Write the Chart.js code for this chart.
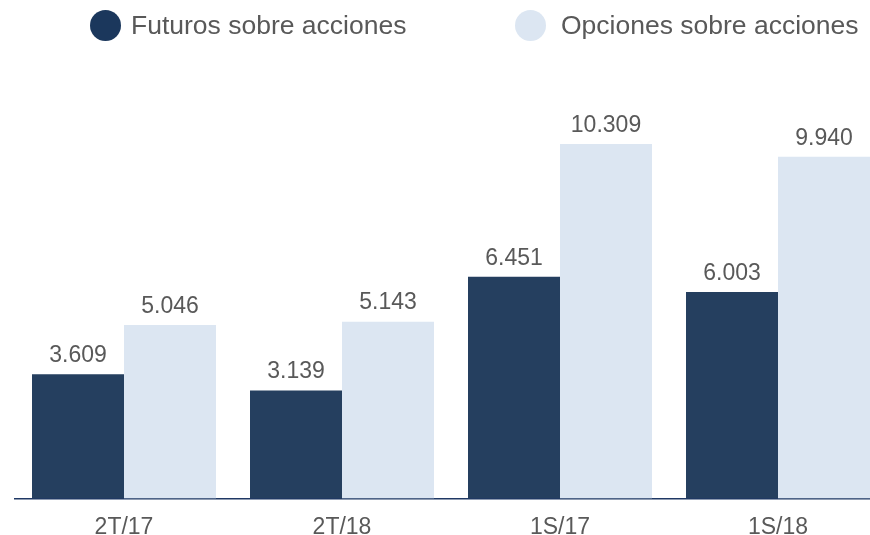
<!DOCTYPE html>
<html>
<head>
<meta charset="utf-8">
<script src="https://cdn.jsdelivr.net/npm/chart.js@4"></script>
<style>
  body { margin: 0; overflow: hidden; background: #fff; font-family: "Liberation Sans", Arial, sans-serif; }
  #wrap { position: relative; width: 890px; height: 535px; }
  .leg { position: absolute; top: 10px; display: flex; align-items: center; font-size: 26.5px; color: #595959; white-space: nowrap; }
  .leg span.dot { display: inline-block; width: 31px; height: 31px; border-radius: 50%; margin-right: 10px; }
</style>
</head>
<body>
<div id="wrap">
  <div id="legend"></div>
  <canvas id="chart"></canvas>
</div>
<script>
const categories = ["2T/17", "2T/18", "1S/17", "1S/18"];
const seriesNames = ["Futuros sobre acciones", "Opciones sobre acciones"];
const futuros = [3609, 3139, 6451, 6003];
const opciones = [5046, 5143, 10309, 9940];
const colors = ["#253F5F", "#DCE6F2"];
const legendDots = ["#1B375C", "#DCE6F2"];
const legendX = [90, 515];
const legendGap = [10, 15];

const legend = document.getElementById("legend");
seriesNames.forEach((name, i) => {
  const d = document.createElement("div");
  d.className = "leg";
  d.style.left = legendX[i] + "px";
  d.innerHTML = '<span class="dot" style="background:' + legendDots[i] + ';margin-right:' + legendGap[i] + 'px"></span>' + name;
  legend.appendChild(d);
});

const fmt = (v) => v.toLocaleString("de-DE");

const valueLabels = {
  id: "valueLabels",
  afterDatasetsDraw(chart) {
    const ctx = chart.ctx;
    ctx.save();
    ctx.font = '23px "Liberation Sans", Arial, sans-serif';
    ctx.fillStyle = "#595959";
    ctx.textAlign = "center";
    ctx.textBaseline = "bottom";
    chart.data.datasets.forEach((ds, i) => {
      chart.getDatasetMeta(i).data.forEach((bar, j) => {
        ctx.fillText(fmt(ds.data[j]), bar.x, bar.y - 7);
      });
    });
    ctx.restore();
  },
};

new Chart(document.getElementById("chart"), {
  type: "bar",
  data: {
    labels: categories,
    datasets: [
      { label: seriesNames[0], data: futuros, backgroundColor: colors[0] },
      { label: seriesNames[1], data: opciones, backgroundColor: colors[1] },
    ],
  },
  options: {
    responsive: true,
    maintainAspectRatio: false,
    animation: false,
    layout: { padding: { left: 15, right: 3, top: 86, bottom: -21 } },
    datasets: { bar: { categoryPercentage: 0.844, barPercentage: 1 } },
    plugins: { legend: { display: false }, tooltip: { enabled: false } },
    scales: {
      x: {
        grid: { display: false, drawTicks: false },
        border: { display: true, color: "#1F3864", width: 1.5 },
        ticks: {
          color: "#595959",
          padding: 15,
          font: { family: "Liberation Sans", size: 23 },
        },
      },
      y: { display: false, min: 0, max: 12000 },
    },
  },
  plugins: [valueLabels],
});
</script>
</body>
</html>
